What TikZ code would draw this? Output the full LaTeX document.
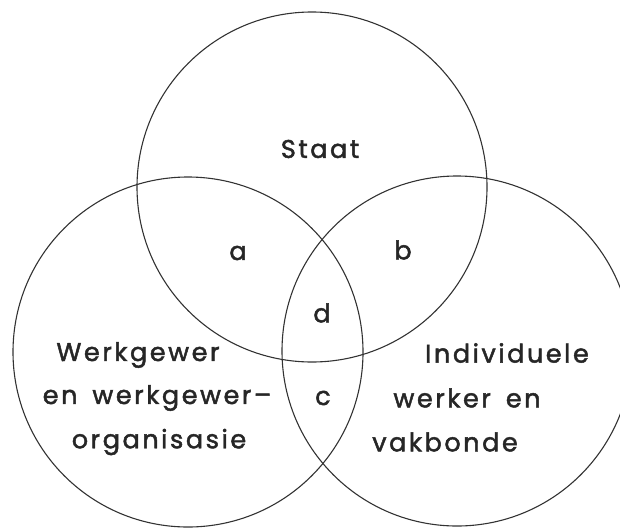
\documentclass[tikz,border=0pt]{standalone}
\usepackage{fontspec}
\setmainfont[LetterSpace=10,FakeBold=1.8,WordSpace=1.6]{Poppins}
\begin{document}
\begin{tikzpicture}[x=1pt,y=-1pt,
  ring/.style={draw=black!80,line width=1.1pt},
  lbl/.style={font=\fontsize{25.5}{27}\selectfont,text=black!85,inner sep=0pt,anchor=center}]
\useasboundingbox (0,0) rectangle (620,527);
\begin{scope}
\clip (0,0) rectangle (620,527);
\draw[ring] (312,187) circle (175);
\draw[ring] (188,352) circle (175);
\draw[ring] (457,351) circle (175);
\end{scope}
\node[lbl] (staat) at (320,149) {Staat};
\node[lbl] (a) at (238,253) {a};
\node[lbl] (b) at (403,250) {b};
\node[lbl] (d) at (322,313) {d};
\node[lbl] (c) at (323,398) {c};
\node[lbl] (w1) at (138,355) {Werkgewer};
\node[lbl] (w2) at (157,398) {en werkgewer–};
\node[lbl] (w3) at (159,442) {organisasie};
\node[lbl] (i1) at (507,353) {Individuele};
\node[lbl] (i2) at (467,398) {werker en};
\node[lbl] (i3) at (445,442) {vakbonde};
\end{tikzpicture}
\end{document}
